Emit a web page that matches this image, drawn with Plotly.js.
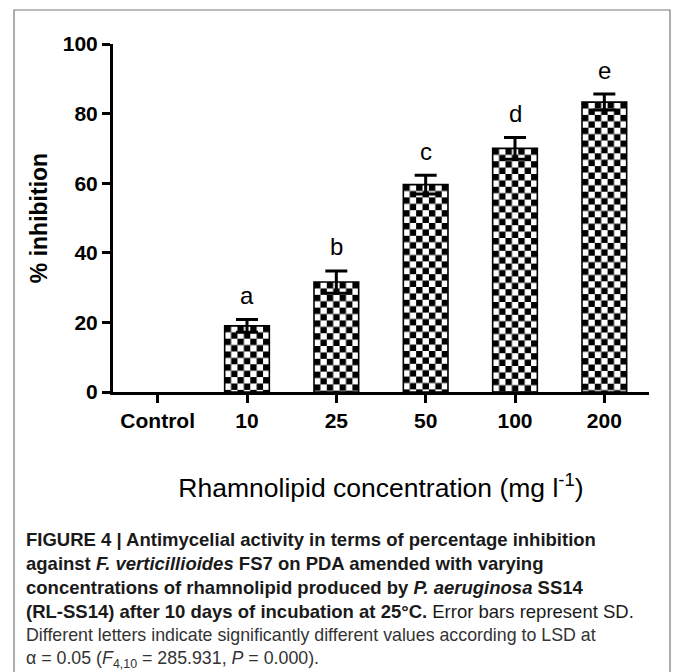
<!DOCTYPE html>
<html>
<head>
<meta charset="utf-8">
<script src="https://cdn.plot.ly/plotly-3.0.1.min.js"></script>
<style>html,body{margin:0;padding:0;background:#fff;}#chart{width:674px;height:672px;}</style>
</head>
<body>
<div id="chart"></div>
<script>
// ---- data ----
var categories = ["Control", "10", "25", "50", "100", "200"];
var inhibition = [0, 19.0, 31.6, 59.6, 70.0, 83.3];
var sd = [NaN, 1.8, 3.2, 2.7, 3.1, 2.3];
var letters = ["", "a", "b", "c", "d", "e"];
var yTicks = [0, 20, 40, 60, 80, 100];
var captionLines = [
  "<b>FIGURE 4 | Antimycelial activity in terms of percentage inhibition</b>",
  "<b>against <i>F. verticillioides</i> FS7 on PDA amended with varying</b>",
  "<b>concentrations of rhamnolipid produced by <i>P. aeruginosa</i> SS14</b>",
  "<b>(RL-SS14) after 10 days of incubation at 25°C.</b> Error bars represent SD.",
  "Different letters indicate significantly different values according to LSD at",
  "α = 0.05 (<i>F</i><sub>4,10</sub> = 285.931, <i>P</i> = 0.000)."
];

// ---- geometry helpers (pixel -> paper) ----
var W = 674, H = 672, mL = 113, mR = 25, mT = 44, mB = 280;
var pw = W - mL - mR, ph = H - mT - mB;
function px(x) { return (x - mL) / pw; }
function py(y) { return (H - mB - y) / ph; }

var FONT = "Liberation Sans, Arial, sans-serif";

var data = [{
  type: "bar",
  x: categories,
  y: inhibition,
  width: 0.5,
  marker: { color: "#ffffff", line: { color: "#000", width: inhibition.map(function (v) { return v > 0 ? 1.6 : 0; }) } },
  error_y: { type: "data", array: sd, visible: true, color: "#000", thickness: 3, width: 11 },
  hoverinfo: "none"
}];

var annotations = [];
for (var i = 0; i < categories.length; i++) {
  if (!letters[i]) continue;
  annotations.push({
    x: i, y: inhibition[i] + sd[i], xref: "x", yref: "y",
    text: letters[i], showarrow: false, yanchor: "middle", yshift: 24,
    font: { family: FONT, size: 24, color: "#000" }
  });
}
var capY = [539, 563, 587, 611, 635, 659];
for (var j = 0; j < captionLines.length; j++) {
  annotations.push({
    xref: "paper", yref: "paper", x: px(24), y: py(capY[j]),
    xanchor: "left", yanchor: "middle", align: "left", showarrow: false,
    text: captionLines[j],
    font: { family: FONT, size: j < 4 ? 18.5 : 17.8, color: j < 4 ? "#1a1a1a" : "#333333" }
  });
}

var layout = {
  width: W, height: H,
  margin: { l: mL, r: mR, t: mT, b: mB, pad: 0 },
  paper_bgcolor: "#fff", plot_bgcolor: "#fff",
  showlegend: false,
  xaxis: {
    type: "category", range: [-0.5, 5.5], fixedrange: true,
    showline: true, linewidth: 3, linecolor: "#000", showgrid: false, zeroline: false,
    ticks: "outside", ticklen: 8, tickwidth: 3, tickcolor: "#000",
    tickfont: { family: FONT, size: 21, color: "#000", weight: "bold" },
    title: { text: "Rhamnolipid concentration (mg l<sup>-1</sup>)", standoff: 48,
             font: { family: FONT, size: 26.5, color: "#000" } }
  },
  yaxis: {
    range: [0, 100], tickvals: yTicks, ticktext: yTicks.map(String), fixedrange: true,
    showline: true, linewidth: 3, linecolor: "#000", showgrid: false, zeroline: false,
    ticks: "outside", ticklen: 8, tickwidth: 3, tickcolor: "#000",
    tickfont: { family: FONT, size: 21, color: "#000", weight: "bold" },
    title: { text: "% inhibition", standoff: 9,
             font: { family: FONT, size: 23, color: "#000", weight: "bold" } }
  },
  annotations: annotations,
  shapes: [{
    type: "path", xref: "paper", yref: "paper", layer: "above",
    path: "M " + px(14) + "," + py(H + 10) + " L " + px(14) + "," + py(10) +
          " L " + px(670) + "," + py(10) + " L " + px(670) + "," + py(H + 10),
    line: { color: "#777", width: 1.2 }
  }]
};

var gd = document.getElementById("chart");
Plotly.newPlot(gd, data, layout, { staticPlot: true, displayModeBar: false }).then(function () {
  var ns = "http://www.w3.org/2000/svg";
  var svg = gd.querySelector("svg.main-svg");
  var defs = svg.querySelector("defs");
  var c = 6.4;
  var paths = gd.querySelectorAll(".barlayer .point path");
  paths.forEach(function (p, k) {
    var bb = p.getBBox();
    if (bb.height < 1) return;
    var pat = document.createElementNS(ns, "pattern");
    var id = "checker" + k;
    pat.setAttribute("id", id);
    pat.setAttribute("patternUnits", "userSpaceOnUse");
    pat.setAttribute("x", bb.x);
    pat.setAttribute("y", bb.y);
    pat.setAttribute("width", 2 * c);
    pat.setAttribute("height", 2 * c);
    var bg = document.createElementNS(ns, "rect");
    bg.setAttribute("width", 2 * c); bg.setAttribute("height", 2 * c); bg.setAttribute("fill", "#fff");
    pat.appendChild(bg);
    [[0, 0], [c, c]].forEach(function (o) {
      var r = document.createElementNS(ns, "rect");
      r.setAttribute("x", o[0]); r.setAttribute("y", o[1]);
      r.setAttribute("width", c); r.setAttribute("height", c);
      r.setAttribute("fill", "#000");
      pat.appendChild(r);
    });
    defs.appendChild(pat);
    p.style.fill = "url(#" + id + ")";
  });
});
</script>
</body>
</html>
